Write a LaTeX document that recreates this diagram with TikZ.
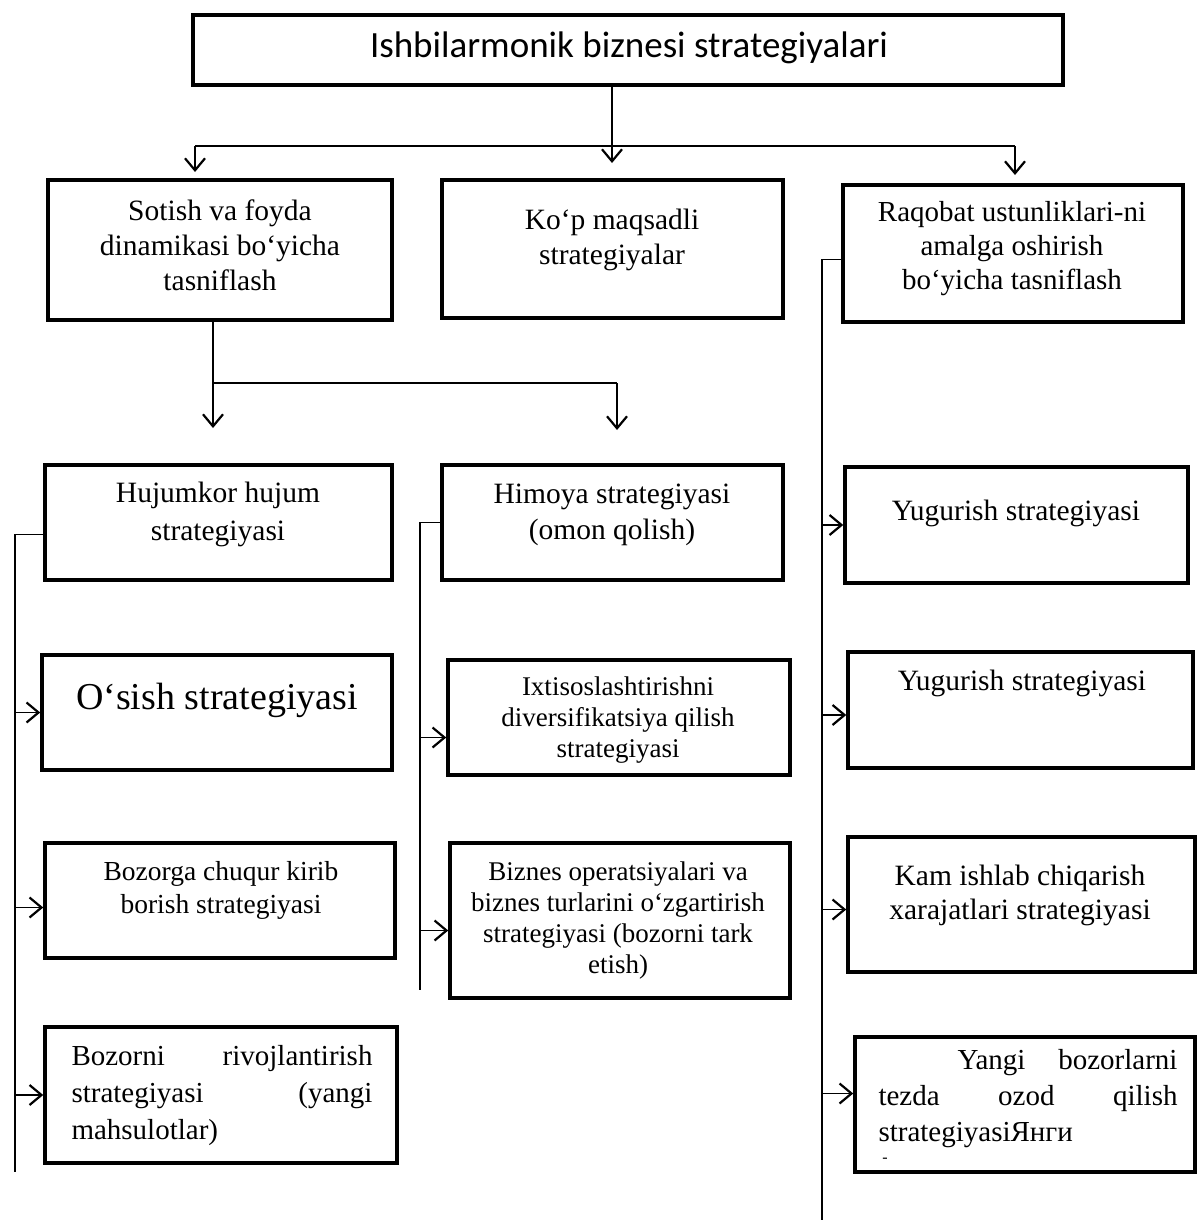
\documentclass[tikz,border=0pt]{standalone}
\usepackage{fontspec}
\setmainfont{Liberation Serif}
\newfontfamily\headfont{Carlito}
\usetikzlibrary{arrows.meta}
\newcommand{\fs}[2]{\fontsize{#1}{#2}\selectfont}
\begin{document}
\begin{tikzpicture}[x=1pt,y=-1pt,
  box/.style={draw, line width=3.5pt, rectangle, inner sep=0pt},
  lbl/.style={align=center, inner sep=0pt},
  jlbl/.style={align=left, inner sep=0pt},
  link/.style={line width=1.8pt},
  arr/.style={link, -{Straight Barb[length=12pt,width=20pt,line width=2.2pt]}}]
\useasboundingbox (0,0) rectangle (1197,1220);

% ---- boxes ----
\node[box, minimum width=870pt, minimum height=70pt]  (T) at (628,50)    {};
\node[box, minimum width=344pt, minimum height=140pt] (A) at (220,250)   {};
\node[box, minimum width=341pt, minimum height=138pt] (B) at (612.5,249) {};
\node[box, minimum width=340pt, minimum height=137pt] (C) at (1013,253.5){};
\node[box, minimum width=347pt, minimum height=115pt] (D) at (218.5,522.5){};
\node[box, minimum width=341pt, minimum height=115pt] (E) at (612.5,522.5){};
\node[box, minimum width=343pt, minimum height=116pt] (F) at (1016.5,525){};
\node[box, minimum width=350pt, minimum height=115pt] (G) at (217,712.5) {};
\node[box, minimum width=342pt, minimum height=115pt] (H) at (619,717.5) {};
\node[box, minimum width=345pt, minimum height=116pt] (I) at (1020.5,710){};
\node[box, minimum width=350pt, minimum height=115pt] (J) at (220,900.5) {};
\node[box, minimum width=340pt, minimum height=155pt] (K) at (620,920.5) {};
\node[box, minimum width=347pt, minimum height=135pt] (L) at (1021.5,904.5){};
\node[box, minimum width=352pt, minimum height=136pt] (M) at (221,1095)  {};
\node[box, minimum width=340pt, minimum height=135pt] (N) at (1025,1104.5){};

% ---- texts ----
\node[lbl, font=\headfont\fs{37}{44}] (Tt) at (629,48) {Ishbilarmonik biznesi strategiyalari};
\node[lbl, font=\fs{29.5}{35}] (At) at (220,245) {Sotish va foyda\\dinamikasi bo‘yicha\\tasniflash};
\node[lbl, font=\fs{29.5}{35}] (Bt) at (612,240) {Ko‘p maqsadli\\strategiyalar};
\node[lbl, font=\fs{29}{34}] (Ct) at (1012,249) {Raqobat ustunliklari-ni\\amalga oshirish\\bo‘yicha tasniflash};
\node[lbl, font=\fs{29.5}{38}] (Dt) at (218,514) {Hujumkor hujum\\strategiyasi};
\node[lbl, font=\fs{29.5}{36}] (Et) at (612,515) {Himoya strategiyasi\\(omon qolish)};
\node[lbl, font=\fs{29.5}{36}] (Ft) at (1016,513) {Yugurish strategiyasi};
\node[lbl, font=\fs{38}{44}] (Gt) at (217,700) {O‘sish strategiyasi};
\node[lbl, font=\fs{27}{31}] (Ht) at (618,720) {Ixtisoslashtirishni\\diversifikatsiya qilish\\strategiyasi};
\node[lbl, font=\fs{29.5}{36}] (It) at (1022,683) {Yugurish strategiyasi};
\node[lbl, font=\fs{27.5}{33}] (Jt) at (221,890) {Bozorga chuqur kirib\\borish strategiyasi};
\node[lbl, font=\fs{27}{31}] (Kt) at (618,920) {Biznes operatsiyalari va\\biznes turlarini o‘zgartirish\\strategiyasi (bozorni tark\\etish)};
\node[lbl, font=\fs{29.5}{34}] (Lt) at (1020,895) {Kam ishlab chiqarish\\xarajatlari strategiyasi};
\node[jlbl, text width=301pt, font=\fs{29}{37}] (Mt) at (222,1096)
  {Bozorni\hfill rivojlantirish\\strategiyasi\hfill (yangi\\mahsulotlar)};
\node[jlbl, text width=299pt, font=\fs{29}{36}] (Nt) at (1028,1099)
  {\hspace*{79pt}Yangi\hfill bozorlarni\\tezda\hfill ozod\hfill qilish\\strategiyasiЯнги};
\node[inner sep=0pt, font=\fs{16}{16}] (Nd) at (885,1160) {-};

% ---- top level distribution ----
\coordinate (hubL) at (195,146);
\coordinate (hubR) at (1015,146);
\coordinate (tipA) at (195,172);
\coordinate (tipB) at (612,163);
\coordinate (tipC) at (1015,175);
\draw[link] (hubL) -- (hubR);
\draw[arr] (T.south -| tipB) -- (tipB);
\draw[arr] (hubL) -- (tipA);
\draw[arr] (hubR) -- (tipC);

% ---- second level distribution ----
\coordinate (tipD) at (213,428);
\coordinate (tipE) at (617,430);
\coordinate (hub2) at (213,383);
\draw[link] (A.south -| tipD) -- (hub2) -- (hub2 -| tipE);
\draw[arr] (hub2) -- (tipD);
\draw[arr] (hub2 -| tipE) -- (tipE);

% ---- left bus ----
\coordinate (busL) at (15,1172);
\draw[link] ([yshift=-12pt]D.west) -| (busL);
\draw[arr] (G.west -| busL) -- (G.west);
\draw[arr] ([yshift=-7pt]J.west -| busL) -- ([yshift=-7pt]J.west);
\draw[arr] (M.west -| busL) -- (M.west);

% ---- middle bus ----
\coordinate (busM) at (420,990);
\draw[link] (E.west) -| (busM);
\draw[arr] ([yshift=-20pt]H.west -| busM) -- ([yshift=-20pt]H.west);
\draw[arr] ([yshift=-10pt]K.west -| busM) -- ([yshift=-10pt]K.west);

% ---- right bus ----
\coordinate (busR) at (822,1220);
\draw[link] ([yshift=-6pt]C.west) -| (busR);
\draw[arr] (F.west -| busR) -- (F.west);
\draw[arr] ([yshift=-5pt]I.west -| busR) -- ([yshift=-5pt]I.west);
\draw[arr] ([yshift=-5pt]L.west -| busR) -- ([yshift=-5pt]L.west);
\draw[arr] ([yshift=11pt]N.west -| busR) -- ([yshift=11pt]N.west);
\end{tikzpicture}
\end{document}
